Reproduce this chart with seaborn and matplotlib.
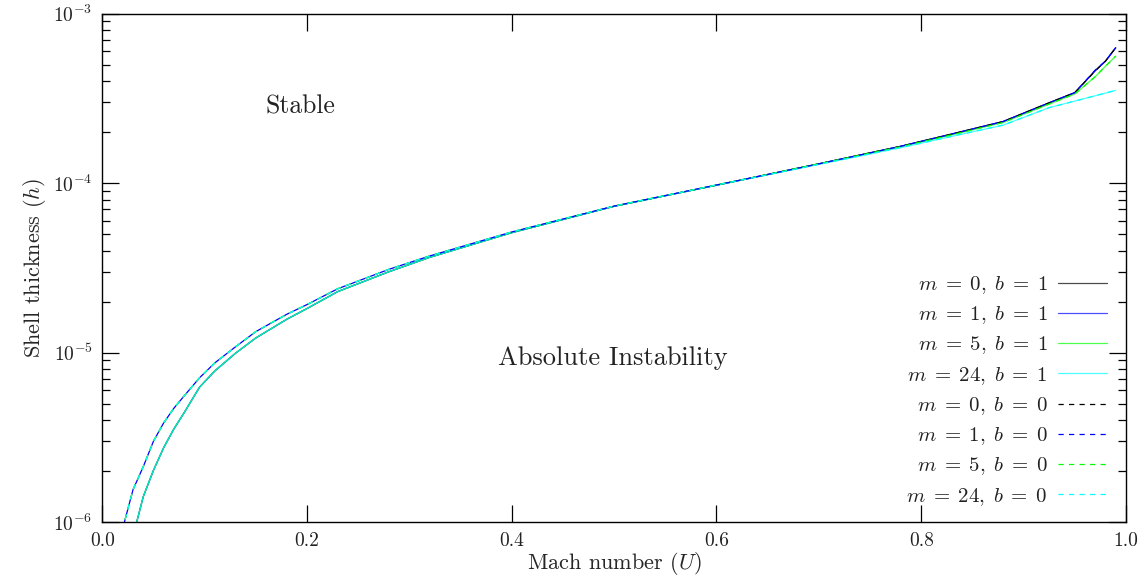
import numpy as np
import pandas as pd
import matplotlib
matplotlib.use("Agg")
import matplotlib.pyplot as plt
import seaborn as sns

# Mach number grids (the b = 1 branch starts later at low U)
U_b0 = [0.020, 0.022, 0.030, 0.040, 0.050, 0.060, 0.070, 0.080, 0.095, 0.110,
        0.130, 0.150, 0.180, 0.200, 0.230, 0.280, 0.320, 0.400, 0.500, 0.600,
        0.700, 0.780, 0.830, 0.880, 0.925, 0.950, 0.970, 0.980, 0.990]
U_b1 = [0.032, 0.034, 0.040, 0.050, 0.060, 0.070, 0.080, 0.095, 0.110, 0.130,
        0.150, 0.180, 0.200, 0.230, 0.280, 0.320, 0.400, 0.500, 0.600, 0.700,
        0.780, 0.830, 0.880, 0.925, 0.950, 0.970, 0.980, 0.990]

# Critical shell thickness, b = 1
h_m0_b1 = [0.92e-6, 1.02e-6, 1.41e-6, 2.02e-6, 2.75e-6, 3.55e-6, 4.42e-6, 6.25e-6,
           7.8e-6, 9.9e-6, 1.22e-5, 1.57e-5, 1.82e-5, 2.29e-5, 3.0e-5, 3.65e-5,
           5.1e-5, 7.3e-5, 9.72e-5, 1.30e-4, 1.65e-4, 1.95e-4, 2.31e-4, 2.98e-4,
           3.42e-4, 4.6e-4, 5.25e-4, 6.3e-4]
h_m1_b1 = [0.92e-6, 1.02e-6, 1.41e-6, 2.02e-6, 2.75e-6, 3.55e-6, 4.42e-6, 6.25e-6,
           7.8e-6, 9.9e-6, 1.22e-5, 1.57e-5, 1.82e-5, 2.29e-5, 3.0e-5, 3.65e-5,
           5.1e-5, 7.3e-5, 9.72e-5, 1.30e-4, 1.65e-4, 1.95e-4, 2.31e-4, 2.98e-4,
           3.42e-4, 4.62e-4, 5.25e-4, 6.3e-4]
h_m5_b1 = [0.92e-6, 1.02e-6, 1.41e-6, 2.02e-6, 2.75e-6, 3.55e-6, 4.42e-6, 6.25e-6,
           7.8e-6, 9.9e-6, 1.22e-5, 1.57e-5, 1.82e-5, 2.29e-5, 3.0e-5, 3.65e-5,
           5.1e-5, 7.3e-5, 9.72e-5, 1.30e-4, 1.64e-4, 1.93e-4, 2.28e-4, 2.93e-4,
           3.36e-4, 4.25e-4, 4.9e-4, 5.62e-4]
h_m24_b1 = [0.92e-6, 1.02e-6, 1.41e-6, 2.02e-6, 2.75e-6, 3.55e-6, 4.42e-6, 6.25e-6,
            7.8e-6, 9.9e-6, 1.22e-5, 1.57e-5, 1.82e-5, 2.29e-5, 3.0e-5, 3.65e-5,
            5.1e-5, 7.3e-5, 9.72e-5, 1.29e-4, 1.62e-4, 1.89e-4, 2.20e-4, 2.79e-4,
            3.05e-4, 3.28e-4, 3.40e-4, 3.53e-4]

# Critical shell thickness, b = 0
h_m0_b0 = [0.90e-6, 1.02e-6, 1.55e-6, 2.12e-6, 3.0e-6, 3.85e-6, 4.7e-6, 5.55e-6,
           7.1e-6, 8.7e-6, 1.08e-5, 1.33e-5, 1.68e-5, 1.92e-5, 2.38e-5, 3.1e-5,
           3.72e-5, 5.15e-5, 7.32e-5, 9.75e-5, 1.30e-4, 1.65e-4, 1.95e-4, 2.31e-4,
           2.98e-4, 3.42e-4, 4.6e-4, 5.25e-4, 6.3e-4]
h_m1_b0 = [0.90e-6, 1.02e-6, 1.55e-6, 2.12e-6, 3.0e-6, 3.85e-6, 4.7e-6, 5.55e-6,
           7.1e-6, 8.7e-6, 1.08e-5, 1.33e-5, 1.68e-5, 1.92e-5, 2.38e-5, 3.1e-5,
           3.72e-5, 5.15e-5, 7.32e-5, 9.75e-5, 1.30e-4, 1.65e-4, 1.95e-4, 2.31e-4,
           2.98e-4, 3.42e-4, 4.65e-4, 5.25e-4, 6.3e-4]
h_m5_b0 = [0.90e-6, 1.02e-6, 1.55e-6, 2.12e-6, 3.0e-6, 3.85e-6, 4.7e-6, 5.55e-6,
           7.1e-6, 8.7e-6, 1.08e-5, 1.33e-5, 1.68e-5, 1.92e-5, 2.38e-5, 3.1e-5,
           3.72e-5, 5.15e-5, 7.32e-5, 9.75e-5, 1.30e-4, 1.64e-4, 1.93e-4, 2.28e-4,
           2.93e-4, 3.36e-4, 4.25e-4, 4.9e-4, 5.62e-4]
h_m24_b0 = [0.90e-6, 1.02e-6, 1.55e-6, 2.12e-6, 3.0e-6, 3.85e-6, 4.7e-6, 5.55e-6,
            7.1e-6, 8.7e-6, 1.08e-5, 1.33e-5, 1.68e-5, 1.92e-5, 2.38e-5, 3.1e-5,
            3.72e-5, 5.15e-5, 7.32e-5, 9.75e-5, 1.29e-4, 1.62e-4, 1.89e-4, 2.20e-4,
            2.79e-4, 3.05e-4, 3.28e-4, 3.40e-4, 3.53e-4]

mode_numbers = [0, 1, 5, 24]
mode_colors = ["#000000", "#0000ff", "#00ff00", "#00ffff"]
# dash phase per mode, so overlapping dashed curves interleave
dash_phase = [0.0, 4.2, 0.0, 0.0]
dash_pattern = (4.2, 4.2)

series = [
    (U_b1, h_m0_b1, 0, 1), (U_b1, h_m1_b1, 1, 1),
    (U_b1, h_m5_b1, 5, 1), (U_b1, h_m24_b1, 24, 1),
    (U_b0, h_m0_b0, 0, 0), (U_b0, h_m1_b0, 1, 0),
    (U_b0, h_m5_b0, 5, 0), (U_b0, h_m24_b0, 24, 0),
]

sns.set_theme(style="ticks")
plt.rcParams.update({
    "font.family": "serif",
    "font.serif": ["cmr10", "DejaVu Serif"],
    "mathtext.fontset": "cm",
    "axes.formatter.use_mathtext": True,
    "axes.unicode_minus": True,
    "axes.linewidth": 1.0,
    "axes.edgecolor": "black",
    "text.color": "#222222",
})

fig = plt.figure(figsize=(11.48, 5.83), dpi=100)
ax = fig.add_axes([0.0891, 0.1046, 0.8917, 0.8719])

for U, h, m, b in series:
    k = mode_numbers.index(m)
    color = mode_colors[k]
    df = pd.DataFrame({"U": U, "h": h})
    label = rf"$m\;=\;{m},\;b\;=\;{b}$"
    if b == 1:
        sns.lineplot(data=df, x="U", y="h", ax=ax, color=color, lw=0.9,
                     alpha=0.7, label=label, sort=False)
    else:
        sns.lineplot(data=df, x="U", y="h", ax=ax, color=color, lw=0.9,
                     label=label, sort=False)
        ax.lines[-1].set_linestyle((dash_phase[k], dash_pattern))

ax.set_yscale("log")
ax.set_xlim(0.0, 1.0)
ax.set_ylim(1e-6, 1e-3)
ax.set_xticks([0.0, 0.2, 0.4, 0.6, 0.8, 1.0])
ax.set_xticklabels(["0.0", "0.2", "0.4", "0.6", "0.8", "1.0"])
ax.xaxis.set_minor_locator(matplotlib.ticker.NullLocator())
ax.yaxis.set_minor_locator(matplotlib.ticker.LogLocator(base=10, subs=np.arange(2, 10)))
ax.yaxis.set_minor_formatter(matplotlib.ticker.NullFormatter())

ax.tick_params(axis="both", which="major", direction="in", length=12, width=0.9,
               top=True, right=True, labelsize=14, pad=7, colors="black",
               labelcolor="#222222")
ax.tick_params(axis="y", which="minor", direction="in", length=6, width=0.9,
               left=True, right=True, colors="black")

ax.set_xlabel(r"Mach number $(U)$", fontsize=16, labelpad=0)
ax.set_ylabel(r"Shell thickness $(h)$", fontsize=16, labelpad=4)

ax.text(0.194, 2.84e-4, "Stable", fontsize=18.5, ha="center", va="center")
ax.text(0.4985, 9.3e-6, "Absolute Instability", fontsize=19, ha="center", va="center")

leg = ax.legend(loc="lower right", bbox_to_anchor=(0.990, 0.012), markerfirst=False,
                frameon=False, fontsize=15, handlelength=2.35, labelspacing=0.40,
                handletextpad=0.5, borderaxespad=0.0)
# legend samples of the dashed curves all start on a dash
for handle in leg.get_lines()[4:]:
    handle.set_linestyle((0.0, dash_pattern))

fig.savefig("out.png", dpi=100)
